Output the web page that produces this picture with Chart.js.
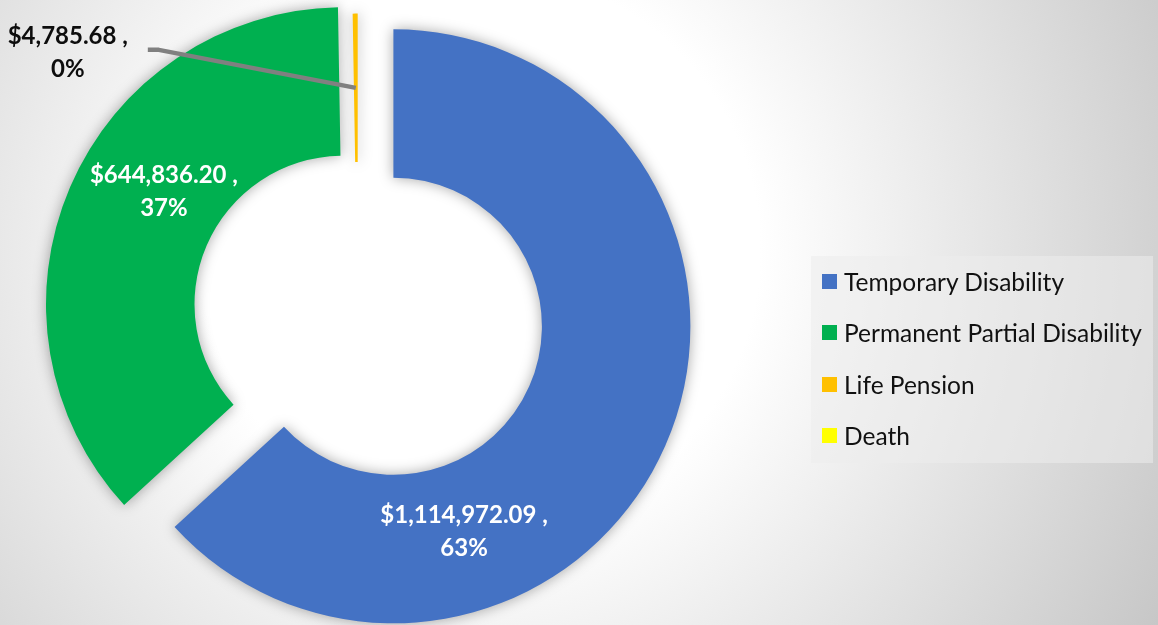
<!DOCTYPE html>
<html>
<head>
<meta charset="utf-8">
<script src="https://cdn.jsdelivr.net/npm/chart.js@4.4.0/dist/chart.umd.min.js"></script>
<style>
html, body { margin: 0; padding: 0; }
#wrap {
  position: relative; width: 1158px; height: 625px; overflow: hidden;
  background: radial-gradient(800px circle at 480px 250px, #ffffff 0%, #ffffff 35%, #c4c4c4 100%);
}
#c { position: absolute; left: 0; top: 0; }
#legend {
  position: absolute; left: 811px; top: 256px; width: 342px; height: 207px;
  background: rgba(236, 236, 236, 0.55);
  font-family: Lato, "Open Sans", sans-serif; font-size: 24.5px; color: #111;
}
.item { position: absolute; left: 0; height: 51px; width: 100%; }
.sw { position: absolute; left: 11px; top: 18px; width: 15px; height: 15px; }
.tx { position: absolute; left: 33px; top: 0; line-height: 51px; white-space: nowrap; }
</style>
</head>
<body>
<div id="wrap">
  <canvas id="c" width="1158" height="625"></canvas>
  <div id="legend"></div>
</div>
<script>
// ---- data ----
const categories = ['Temporary Disability', 'Permanent Partial Disability', 'Life Pension', 'Death'];
const amounts = [1114972.09, 644836.20, 4785.68, 0];

// ---- style ----
const colors = ['#4472C4', '#00B050', '#FFC000', '#FFFF00'];
const explode = [39, 16, 0, 0];           // px pull-out along each slice's bisector
const labelAlong = [0.708, 0.567, 0.5, 0.5];
const labelAcross = [0.466, 0.423, 0.5, 0.5];
const labelInside = [true, true, false, false];
const outside = { dx: -288, dy: -35, elbowDx: -197, elbowDy: -38, endDx: -208 };

const total = amounts.reduce((a, b) => a + b, 0);
const fmtMoney = v => '$' + v.toLocaleString('en-US', { minimumFractionDigits: 2, maximumFractionDigits: 2 }) + ' ,';
const fmtPct = v => Math.round(v / total * 100) + '%';

const explodePlugin = {
  id: 'explodeAndLabels',
  beforeDatasetsDraw(chart) {
    const meta = chart.getDatasetMeta(0);
    const a = chart.chartArea;
    const cx = (a.left + a.right) / 2, cy = (a.top + a.bottom) / 2;
    meta.data.forEach((el, i) => {
      const mid = (el.startAngle + el.endAngle) / 2;
      el.x = cx + Math.cos(mid) * explode[i];
      el.y = cy + Math.sin(mid) * explode[i];
    });
    const ctx = chart.ctx;
    ctx.save();
    ctx.shadowColor = 'rgba(0,0,0,0.35)';
    ctx.shadowBlur = 14;
  },
  afterDatasetsDraw(chart) {
    const ctx = chart.ctx;
    ctx.restore();
    const meta = chart.getDatasetMeta(0);
    ctx.save();
    ctx.font = 'bold 24px Lato, "Open Sans", sans-serif';
    ctx.textAlign = 'center';
    ctx.textBaseline = 'middle';
    meta.data.forEach((el, i) => {
      const v = amounts[i];
      if (!v) return;
      const ang = el.startAngle + labelAlong[i] * (el.endAngle - el.startAngle);
      const r = el.innerRadius + labelAcross[i] * (el.outerRadius - el.innerRadius);
      let px = el.x + Math.cos(ang) * r;
      let py = el.y + Math.sin(ang) * r;
      if (labelInside[i]) {
        ctx.fillStyle = '#ffffff';
      } else {
        ctx.beginPath();
        ctx.strokeStyle = '#808080';
        ctx.lineWidth = 4.5;
        ctx.lineJoin = 'round';
        ctx.moveTo(px, py);
        ctx.lineTo(px + outside.elbowDx, py + outside.elbowDy);
        ctx.lineTo(px + outside.endDx, py + outside.elbowDy);
        ctx.stroke();
        px += outside.dx;
        py += outside.dy;
        ctx.fillStyle = '#0d0d0d';
      }
      ctx.fillText(fmtMoney(v), px, py - 16.5);
      ctx.fillText(fmtPct(v), px, py + 16.5);
    });
    ctx.restore();
  }
};

function build() {
  const chart = new Chart(document.getElementById('c'), {
    type: 'doughnut',
    data: {
      labels: categories,
      datasets: [{
        data: amounts,
        backgroundColor: colors,
        borderWidth: 0,
        clip: false
      }]
    },
    options: {
      responsive: false,
      animation: false,
      events: [],
      radius: 297,
      cutout: '50%',
      layout: { padding: { left: 0, top: 0, right: 442.6, bottom: 3.8 } },
      plugins: { legend: { display: false }, tooltip: { enabled: false } }
    },
    plugins: [explodePlugin]
  });

  const leg = document.getElementById('legend');
  chart.data.labels.forEach((lab, i) => {
    const it = document.createElement('div');
    it.className = 'item';
    it.style.top = (i * 51.3) + 'px';
    const sw = document.createElement('div');
    sw.className = 'sw';
    sw.style.background = chart.data.datasets[0].backgroundColor[i];
    const tx = document.createElement('div');
    tx.className = 'tx';
    tx.textContent = lab;
    it.appendChild(sw);
    it.appendChild(tx);
    leg.appendChild(it);
  });
}

if (document.fonts && document.fonts.load) {
  Promise.all([
    document.fonts.load('bold 24px Lato'),
    document.fonts.load('24.5px Lato')
  ]).then(build, build);
} else {
  build();
}
</script>
</body>
</html>
